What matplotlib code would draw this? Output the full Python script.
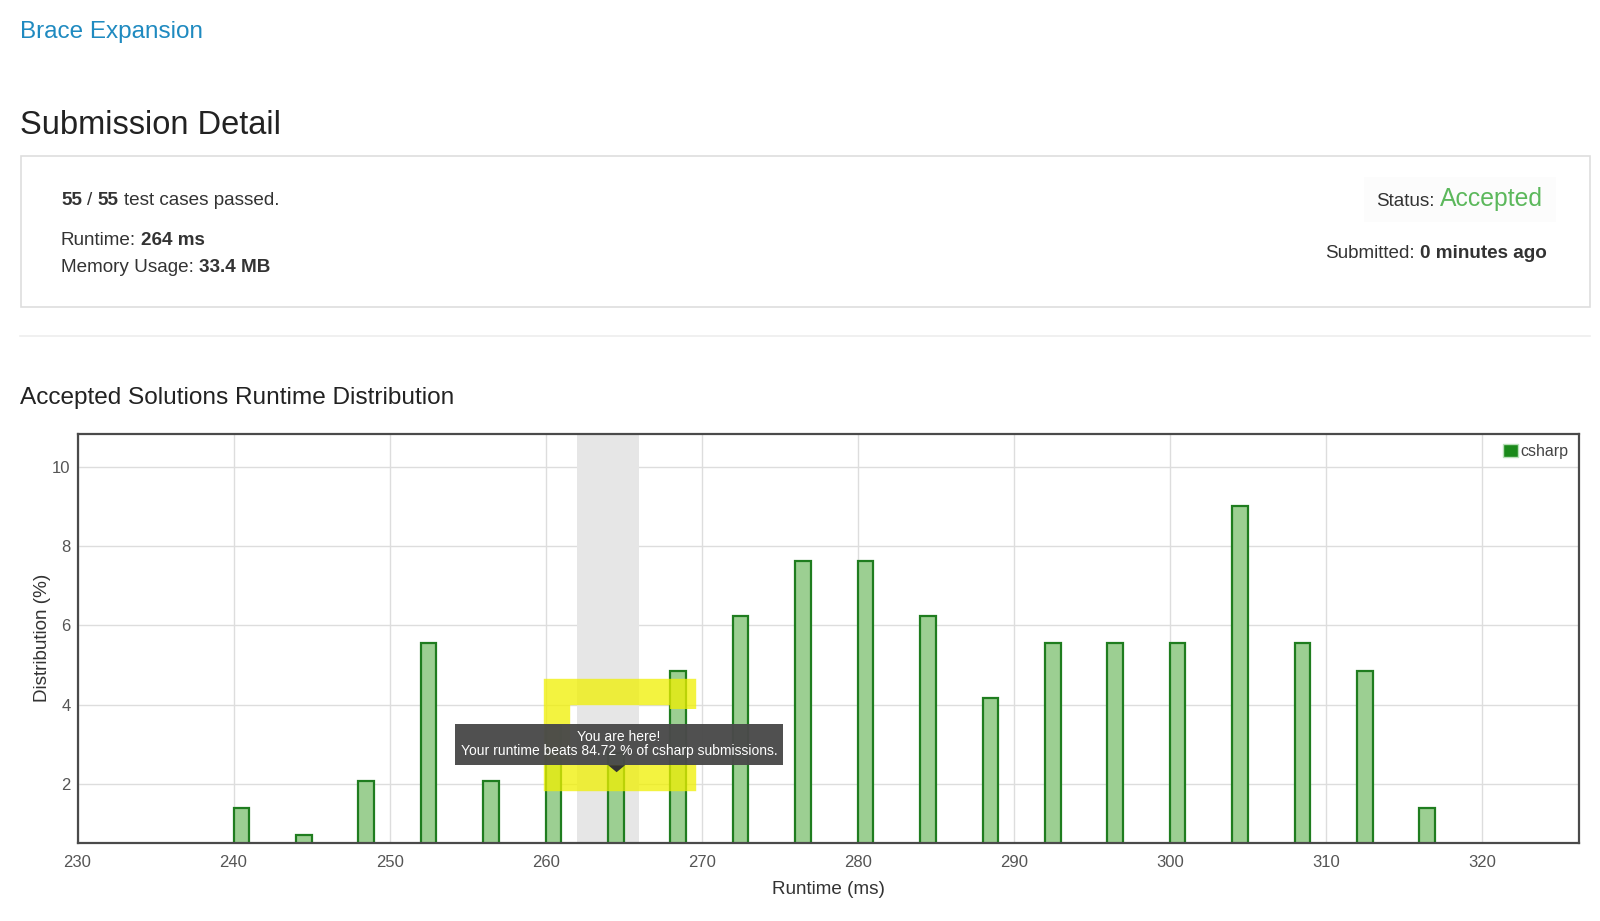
import matplotlib
matplotlib.use("Agg")
import matplotlib.pyplot as plt
from matplotlib.patches import Rectangle, Patch, Polygon

plt.rcParams['font.family'] = ['Liberation Sans', 'DejaVu Sans']

# data
runtime_ms = [240, 244, 248, 252, 256, 260, 264, 268, 272, 276,
              280, 284, 288, 292, 296, 300, 304, 308, 312, 316]
distribution = [1.39, 0.69, 2.08, 5.56, 2.08, 3.47, 2.78, 4.86, 6.25, 7.64,
                7.64, 6.25, 4.17, 5.56, 5.56, 5.56, 9.03, 5.56, 4.86, 1.39]
x_ticks = [230, 240, 250, 260, 270, 280, 290, 300, 310, 320]
y_ticks = [2, 4, 6, 8, 10]
my_runtime = 264
beats_pct = 84.72

W, H = 1600, 921
fig = plt.figure(figsize=(W / 100, H / 100), dpi=100)
fig.patch.set_facecolor("white")
renderer = fig.canvas.get_renderer()

DARK = "#333333"


def fx(x):
    return x / W


def fy(y):
    return 1 - y / H


def text_w(s, **kw):
    t = fig.text(0, 0, s, **kw)
    w = t.get_window_extent(renderer).width
    t.remove()
    return w


def runs(x, y, parts, ha="left"):
    # draw pieces of text with different styles on one baseline
    pieces = []
    total = 0
    for s, kw in parts:
        sp = text_w("a a", **kw) - text_w("aa", **kw)
        lead = len(s) - len(s.lstrip(" "))
        trail = len(s) - len(s.rstrip(" "))
        core = s.strip(" ")
        w = text_w(core, **kw)
        pieces.append((total + lead * sp, core, kw))
        total += w + (lead + trail) * sp
    start = x - total if ha == "right" else x
    for off, core, kw in pieces:
        fig.text(fx(start + off), fy(y), core, va="baseline", ha="left", **kw)


norm = dict(fontsize=13.6, color=DARK)
bold = dict(fontsize=13.6, color=DARK, fontweight="bold")

fig.text(fx(20), fy(38), "Brace Expansion", fontsize=17.5, color="#1f8ac0", va="baseline")
fig.text(fx(20), fy(134), "Submission Detail", fontsize=23.5, color="#222222", va="baseline")

# info box
fig.patches.append(Rectangle((fx(20.5), fy(307)), (1590 - 20.5) / W, (307 - 156) / H,
                             transform=fig.transFigure, facecolor="white",
                             edgecolor="#dedede", lw=1.2))
fig.patches.append(Rectangle((fx(1364), fy(222)), (1556 - 1364) / W, (222 - 177) / H,
                             transform=fig.transFigure, facecolor="#fcfcfc",
                             edgecolor="none"))

runs(61, 205, [("55", bold), (" / ", norm), ("55", bold), (" test cases passed.", norm)])
runs(61, 245, [("Runtime: ", norm), (f"{my_runtime} ms", bold)])
runs(61, 272, [("Memory Usage: ", norm), ("33.4 MB", bold)])
runs(1543, 206, [("Status: ", norm), ("Accepted", dict(fontsize=17.8, color="#5cb85c"))], ha="right")
runs(1547, 258, [("Submitted: ", norm), ("0 minutes ago", bold)], ha="right")

fig.add_artist(plt.Line2D([fx(20), fx(1590)], [fy(336), fy(336)],
                          transform=fig.transFigure, color="#eeeeee", lw=1.2))

fig.text(fx(20), fy(404), "Accepted Solutions Runtime Distribution",
         fontsize=17.6, color="#222222", va="baseline")

# chart
ax = fig.add_axes([77.5 / W, 1 - 842.8 / H, (1578.6 - 77.5) / W, (842.8 - 433.7) / H])
ax.set_xlim(230, 326.2)
ax.set_ylim(0.505, 10.85)
ax.set_xticks(x_ticks)
ax.set_yticks(y_ticks)
ax.grid(True, color="#dddddd", lw=1)
ax.set_axisbelow(True)
ax.tick_params(length=0, labelsize=12, labelcolor="#555555")
ax.tick_params(axis="x", pad=9)
ax.tick_params(axis="y", pad=5)
for sp in ax.spines.values():
    sp.set_color("#4a4a4a")
    sp.set_linewidth(1.6)

ax.axvspan(262, 266, color="#e6e6e6", zorder=0.8, lw=0)

ax.bar(runtime_ms, distribution, width=1, align="edge",
       facecolor="#9ccf92", edgecolor="#1f7d1f", lw=1.6, zorder=2)

ax.set_xlabel("Runtime (ms)", fontsize=13.6, color=DARK, labelpad=8)
ax.set_ylabel("Distribution (%)", fontsize=13.6, color=DARK, labelpad=1)

leg = ax.legend(handles=[Patch(facecolor="#1a8a1a", edgecolor="#b9e0b9", lw=1)],
                labels=["csharp"], loc="upper right", frameon=False,
                fontsize=11.5, handlelength=0.9, handleheight=0.9,
                handletextpad=0.15, borderpad=0.2, borderaxespad=0.45)
for t in leg.get_texts():
    t.set_color("#444444")

# hand drawn highlight
ax.plot([268.8, 268.8, 260.7, 260.7, 268.8, 268.8],
        [3.9, 4.32, 4.32, 2.15, 2.15, 2.5],
        color="#f0f000", lw=19, alpha=0.75, solid_joinstyle="miter",
        solid_capstyle="butt", zorder=3)

# tooltip
ax.add_patch(Rectangle((254.2, 2.465), 21.0, 1.055, facecolor="#4a4a4a",
                       edgecolor="none", alpha=0.97, zorder=4))
ax.add_patch(Polygon([[264.0, 2.47], [265.1, 2.47], [264.55, 2.29]],
                     closed=True, facecolor="#333333", edgecolor="none", zorder=4))
ax.text(264.7, 3.19, "You are here!", ha="center", va="center",
        fontsize=10, color="white", zorder=5)
ax.text(264.7, 2.83, f"Your runtime beats {beats_pct} % of csharp submissions.",
        ha="center", va="center", fontsize=10, color="white", zorder=5)

fig.savefig("out.png", dpi=100)
